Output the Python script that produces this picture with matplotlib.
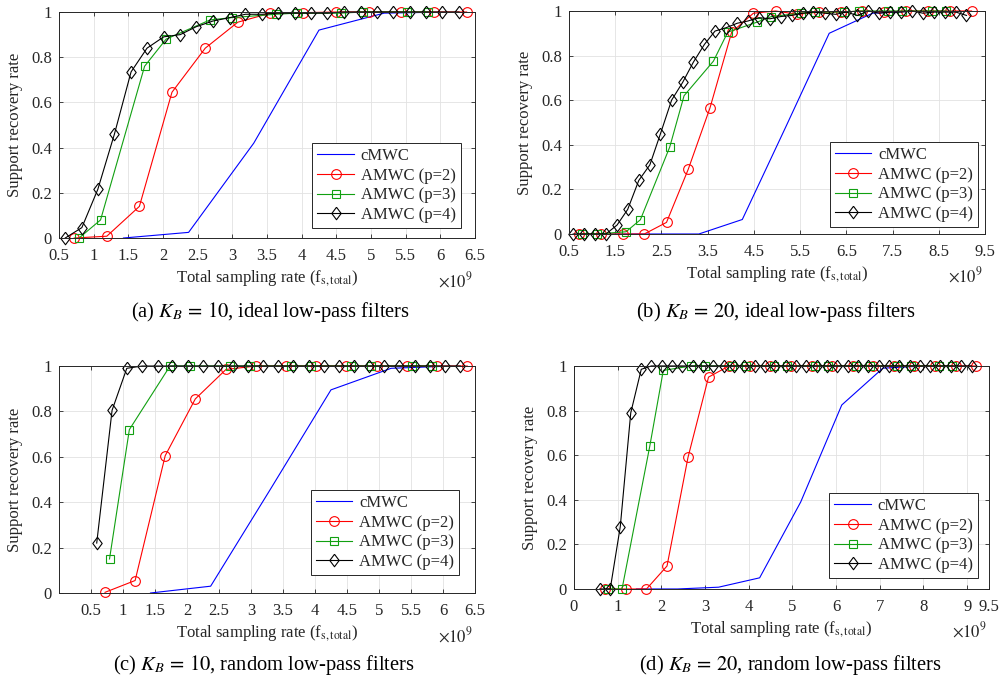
import matplotlib
matplotlib.use('Agg')
import matplotlib.pyplot as plt

plt.rcParams['font.family'] = ['Liberation Serif', 'DejaVu Serif']
plt.rcParams['mathtext.fontset'] = 'stix'

# x positions (units of 1e9)
x_cmwc_short = [1.43, 2.37, 3.31, 4.25, 5.19, 6.13]
x_cmwc_long = [1.43, 2.37, 3.31, 4.25, 5.19, 6.13, 7.07, 8.01, 8.95]
x_p2_short = [0.72, 1.19, 1.66, 2.13, 2.61, 3.08, 3.55, 4.02, 4.49, 4.97, 5.44, 5.91, 6.38]
x_p2_long = x_p2_short + [6.85, 7.32, 7.79, 8.27, 8.74, 9.21]
x_p3_short = [0.79, 1.10, 1.735, 2.045, 2.68, 2.99, 3.625, 3.935, 4.57, 4.88, 5.515, 5.825]
x_p3_long = x_p3_short + [6.46, 6.77, 7.405, 7.715, 8.35, 8.66]
x_p4_short = [0.59, 0.83, 1.06, 1.30, 1.54, 1.77, 2.01, 2.25, 2.48, 2.72, 2.96, 3.19, 3.43,
              3.66, 3.90, 4.14, 4.37, 4.61, 4.85, 5.08, 5.32, 5.56, 5.79, 6.03, 6.27]
x_p4_long = x_p4_short + [6.50, 6.74, 6.98, 7.21, 7.45, 7.69, 7.92, 8.16, 8.39, 8.63, 8.87, 9.10]

# (a) K_B = 10, ideal
a_cmwc = [0, 0.025, 0.42, 0.92, 0.995, 1.0]
a_p2 = [0, 0.008, 0.14, 0.645, 0.84, 0.955, 0.995, 0.997, 1, 1, 1, 1, 1]
a_p3 = [0, 0.08, 0.76, 0.88, 0.965, 0.975, 0.99, 0.995, 0.995, 1, 1, 1]
a_p4 = [0, 0.046, 0.215, 0.46, 0.735, 0.84, 0.89, 0.90, 0.935, 0.96, 0.975, 0.99, 0.99,
        0.995, 0.995, 0.995, 0.995, 1, 1, 1, 1, 1, 1, 1, 1]

# (b) K_B = 20, ideal
b_cmwc = [0, 0, 0, 0.065, 0.48, 0.90, 0.99, 1, 1]
b_p2 = [0, 0, 0, 0, 0.052, 0.29, 0.565, 0.905, 0.99, 1, 0.985, 0.995, 0.995, 1, 0.995, 1, 1, 1, 1]
b_p3 = [0, 0, 0.01, 0.064, 0.39, 0.62, 0.775, 0.905, 0.95, 0.975, 0.99, 0.995, 0.995, 1, 1, 1, 1, 1]
b_p4 = [0, 0, 0, 0, 0.04, 0.11, 0.24, 0.31, 0.45, 0.60, 0.68, 0.77, 0.85, 0.91, 0.925, 0.945,
        0.955, 0.97, 0.965, 0.975, 0.98, 0.99, 0.995, 0.99, 0.985, 0.995, 0.98, 1.0, 0.99,
        0.995, 0.995, 1.0, 0.99, 0.995, 0.995, 0.995, 0.98]

# (c) K_B = 10, random
c_cmwc = [0, 0.03, 0.46, 0.895, 0.99, 1.0]
c_p2 = [0.003, 0.055, 0.605, 0.855, 0.985, 1, 1, 1, 1, 1, 1, 1, 1]
c_p3 = [0.15, 0.72, 1, 1, 1, 1, 1, 1, 1, 1, 1, 1]
c_p4 = [0.22, 0.805, 0.99] + [1] * 22

# (d) K_B = 20, random
d_cmwc = [0, 0, 0.008, 0.05, 0.39, 0.825, 0.99, 1, 1]
d_p2 = [0, 0, 0, 0.103, 0.59, 0.95] + [1] * 13
d_p3 = [0, 0, 0.64, 0.98] + [1] * 14
d_p4 = [0, 0, 0.28, 0.79, 0.985] + [1] * 32

labels = ['cMWC', 'AMWC (p=2)', 'AMWC (p=3)', 'AMWC (p=4)']
captions = [r'(a) $K_B\,=\,10$, ideal low-pass filters',
            r'(b) $K_B\,=\,20$, ideal low-pass filters',
            r'(c) $K_B\,=\,10$, random low-pass filters',
            r'(d) $K_B\,=\,20$, random low-pass filters']

diamond = [(0, 1), (0.75, 0), (0, -1), (-0.75, 0), (0, 1)]
dark = '#262626'


def panel(fig, rect, xs, ys, xlim, xticks, legend_anchor):
    ax = fig.add_axes(rect)
    ax.plot(xs[0], ys[0], '-', color='#0000ff', lw=0.8, label=labels[0])
    ax.plot(xs[1], ys[1], '-o', color='#ff0000', lw=0.8, ms=7, mfc='none', mew=0.8,
            label=labels[1], clip_on=False)
    ax.plot(xs[2], ys[2], '-s', color='#11a011', lw=0.8, ms=6, mfc='none', mew=0.8,
            label=labels[2], clip_on=False)
    ax.plot(xs[3], ys[3], '-', marker=diamond, color='k', lw=0.8, ms=9, mfc='none', mew=0.8,
            label=labels[3], clip_on=False)
    ax.set_xlim(*xlim)
    ax.set_ylim(0, 1)
    ax.set_xticks(xticks)
    ax.set_xticklabels(['%g' % t for t in xticks])
    ax.set_yticks([0, 0.2, 0.4, 0.6, 0.8, 1])
    ax.set_yticklabels(['0', '0.2', '0.4', '0.6', '0.8', '1'])
    ax.grid(True, color='#e2e2e2', lw=0.6)
    ax.set_axisbelow(True)
    for s in ax.spines.values():
        s.set_color(dark)
        s.set_linewidth(0.7)
    ax.tick_params(direction='in', top=True, right=True, length=3, width=0.6,
                   colors=dark, labelsize=12)
    ax.tick_params(axis='x', pad=7)
    ax.tick_params(axis='y', pad=5)
    ax.set_xlabel(r'Total sampling rate (f$_{\mathrm{s,total}}$)', fontsize=12, color=dark,
                  labelpad=3)
    ax.set_ylabel('Support recovery rate', fontsize=12, color=dark, labelpad=6)
    ax.text(0.995, -0.19, r'$\times10^9$', transform=ax.transAxes, ha='right', va='center',
            fontsize=12, color=dark)
    leg = ax.legend(loc='lower right', bbox_to_anchor=legend_anchor, fontsize=12,
                    fancybox=False, framealpha=1, edgecolor=dark, handlelength=2.2,
                    handletextpad=0.4, labelspacing=0.22, borderpad=0.3, borderaxespad=0)
    leg.get_frame().set_linewidth(0.7)
    for t in leg.get_texts():
        t.set_color(dark)
    return ax


fig = plt.figure(figsize=(10.01, 6.82), dpi=100)

ticks_a = [0.5, 1, 1.5, 2, 2.5, 3, 3.5, 4, 4.5, 5, 5.5, 6, 6.5]
ticks_b = [0.5, 1.5, 2.5, 3.5, 4.5, 5.5, 6.5, 7.5, 8.5, 9.5]
ticks_d = [0, 1, 2, 3, 4, 5, 6, 7, 8, 9, 9.5]

panel(fig, [0.0589, 0.651, 0.4156, 0.3314],
      [x_cmwc_short, x_p2_short, x_p3_short, x_p4_short], [a_cmwc, a_p2, a_p3, a_p4],
      (0.5, 6.5), ticks_a, (0.966, 0.044))
panel(fig, [0.5684, 0.6569, 0.4156, 0.327],
      [x_cmwc_long, x_p2_long, x_p3_long, x_p4_long], [b_cmwc, b_p2, b_p3, b_p4],
      (0.5, 9.5), ticks_b, (0.983, 0.031))
panel(fig, [0.0589, 0.1305, 0.4156, 0.3328],
      [x_cmwc_short, x_p2_short, x_p3_short, x_p4_short], [c_cmwc, c_p2, c_p3, c_p4],
      (0, 6.5), ticks_a, (0.962, 0.079))
panel(fig, [0.5734, 0.1364, 0.4146, 0.327],
      [x_cmwc_long, x_p2_long, x_p3_long, x_p4_long], [d_cmwc, d_p2, d_p3, d_p4],
      (0, 9.5), ticks_d, (0.973, 0.049))

fig.text(270 / 1001, 1 - 312 / 682, captions[0], ha='center', va='center', fontsize=14.8)
fig.text(776 / 1001, 1 - 312 / 682, captions[1], ha='center', va='center', fontsize=14.8)
fig.text(264 / 1001, 1 - 665 / 682, captions[2], ha='center', va='center', fontsize=14.8)
fig.text(790 / 1001, 1 - 665 / 682, captions[3], ha='center', va='center', fontsize=14.8)

fig.savefig('out.png', dpi=100)
